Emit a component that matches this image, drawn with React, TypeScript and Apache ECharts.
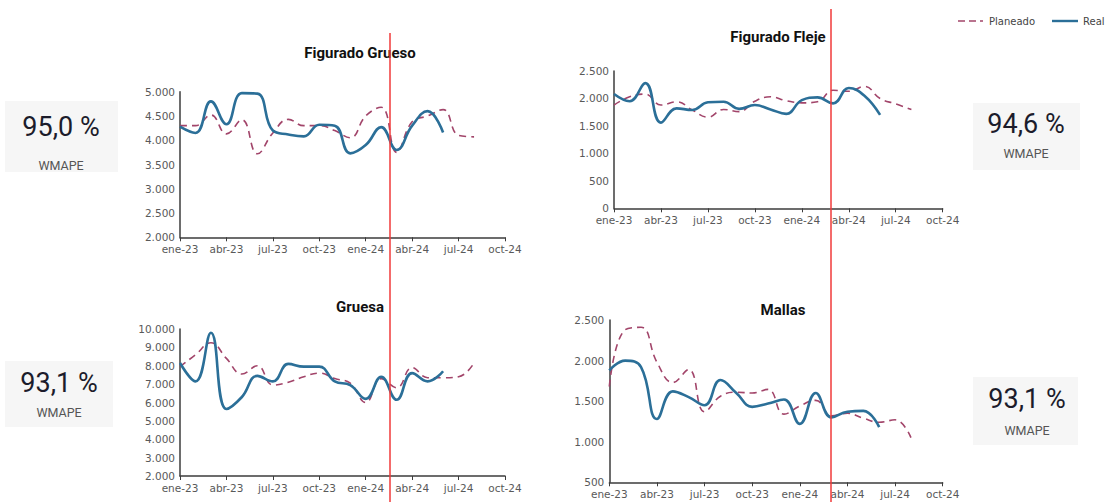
import React, { useEffect, useRef } from "react";
import * as echarts from "echarts";

const months = [
  "ene-23", "feb-23", "mar-23", "abr-23", "may-23", "jun-23", "jul-23", "ago-23", "sep-23", "oct-23", "nov-23", "dic-23",
  "ene-24", "feb-24", "mar-24", "abr-24", "may-24", "jun-24", "jul-24", "ago-24", "sep-24", "oct-24",
];

const fgReal = [4280, 4150, 4800, 4330, 4970, 4960, 4200, 4120, 4080, 4320, 4300, 3730, 3900, 4270, 3800, 4300, 4600, 4160];
const fgPlan = [4300, 4300, 4520, 4130, 4420, 3720, 4150, 4430, 4300, 4300, 4200, 4050, 4500, 4680, 3750, 4380, 4500, 4630, 4100, 4070];

const ffReal = [2080, 1950, 2280, 1560, 1820, 1790, 1930, 1940, 1810, 1880, 1800, 1720, 1970, 2020, 1910, 2190, 2050, 1700];
const ffPlan = [1880, 2030, 2080, 1880, 1940, 1790, 1660, 1800, 1760, 1950, 2030, 1960, 1920, 1940, 2150, 2130, 2220, 2000, 1900, 1800];

const grReal = [8150, 7150, 9800, 5650, 6300, 7450, 7150, 8100, 7950, 7950, 7150, 6950, 6200, 7400, 6150, 7600, 7150, 7700];
const grPlan = [7950, 8600, 9250, 8400, 7550, 8000, 6950, 7100, 7400, 7600, 7300, 7050, 6000, 7300, 6800, 7900, 7350, 7350, 7400, 8150];

const maReal = [1880, 2000, 1920, 1280, 1620, 1550, 1450, 1760, 1600, 1430, 1470, 1520, 1220, 1600, 1300, 1370, 1380, 1180];
const maPlan = [1680, 2380, 2410, 1980, 1730, 1890, 1370, 1560, 1610, 1600, 1645, 1340, 1440, 1510, 1320, 1350, 1290, 1240, 1270, 1050];

const titles = ["Figurado Grueso", "Figurado Fleje", "Gruesa", "Mallas"];
const yRanges = [
  [2000, 5000, 500],
  [0, 2500, 500],
  [2000, 10000, 1000],
  [500, 2500, 500],
];
const kpis = ["95,0 %", "94,6 %", "93,1 %", "93,1 %"];
const kpiLabel = "WMAPE";
const legendNames = ["Planeado", "Real"];

const REAL = "#2b6f98";
const PLAN = "#a2456a";
const AXIS = "#3c3c3c";
const LABEL = "#595959";

const fmt = (v: number) => String(v).replace(/\B(?=(\d{3})+(?!\d))/g, ".");

function pad(arr: number[]) {
  const out: (number | null)[] = arr.slice();
  while (out.length < months.length) out.push(null);
  return out;
}

export default function App() {
  const ref = useRef<HTMLDivElement>(null);
  useEffect(() => {
    if (!ref.current) return;
    const chart = echarts.init(ref.current, null, { renderer: "svg" });

    const grids = [
      { left: 180, right: 603, top: 91.7, bottom: 264.7 },
      { left: 614, right: 165.3, top: 71, bottom: 293.7 },
      { left: 180, right: 603, top: 329, bottom: 26 },
      { left: 609.3, right: 165.3, top: 320, bottom: 19.7 },
    ];
    const titlePos = [
      { x: 355, y: 40 },
      { x: 773, y: 24 },
      { x: 355, y: 294 },
      { x: 778, y: 297 },
    ];
    const realData = [fgReal, ffReal, grReal, maReal];
    const planData = [fgPlan, ffPlan, grPlan, maPlan];

    const series: any[] = [];
    for (let i = 0; i < 4; i++) {
      series.push({
        name: legendNames[0],
        type: "line",
        xAxisIndex: i,
        yAxisIndex: i,
        data: pad(planData[i]),
        smooth: 0.45,
        showSymbol: false,
        symbol: "none",
        lineStyle: { color: PLAN, width: 1.6, type: [7, 5] },
        z: 2,
      });
      series.push({
        name: legendNames[1],
        type: "line",
        xAxisIndex: i,
        yAxisIndex: i,
        data: pad(realData[i]),
        smooth: 0.45,
        showSymbol: false,
        symbol: "none",
        lineStyle: { color: REAL, width: 2.6 },
        z: 3,
      });
    }

    const kpiBoxes = [
      { x: 5, y: 101, w: 113, h: 71, cx: 61, ny: 127, ly: 165 },
      { x: 973, y: 103, w: 107, h: 67, cx: 1026, ny: 124, ly: 153 },
      { x: 5, y: 361, w: 108, h: 66, cx: 59, ny: 383, ly: 412 },
      { x: 973, y: 377, w: 105, h: 68, cx: 1027, ny: 399, ly: 430 },
    ];

    const graphic: any[] = [];
    kpiBoxes.forEach((b, i) => {
      graphic.push({
        type: "rect",
        shape: { x: b.x, y: b.y, width: b.w, height: b.h },
        style: { fill: "#f6f6f6" },
        z: 0,
      });
      graphic.push({
        type: "text",
        x: b.cx,
        y: b.ny,
        style: {
          text: kpis[i],
          fill: "#1c1c2b",
          font: "27px Roboto",
          textAlign: "center",
          textVerticalAlign: "middle",
        },
      });
      graphic.push({
        type: "text",
        x: b.cx,
        y: b.ly,
        style: {
          text: kpiLabel,
          fill: "#555555",
          font: "12.5px Roboto",
          textAlign: "center",
          textVerticalAlign: "middle",
        },
      });
    });
    graphic.push({
      type: "line",
      shape: { x1: 390, y1: 33, x2: 390, y2: 502 },
      style: { stroke: "#f03a3a", lineWidth: 1.5 },
      z: 10,
    });
    graphic.push({
      type: "line",
      shape: { x1: 831, y1: 9, x2: 831, y2: 502 },
      style: { stroke: "#f03a3a", lineWidth: 1.5 },
      z: 10,
    });
    graphic.push({
      type: "line",
      shape: { x1: 958, y1: 21, x2: 983, y2: 21 },
      style: { stroke: PLAN, lineWidth: 1.6, lineDash: [7, 4] },
    });
    graphic.push({
      type: "text",
      x: 989,
      y: 21,
      style: { text: legendNames[0], fill: "#444", font: "10px 'DejaVu Sans'", textVerticalAlign: "middle" },
    });
    graphic.push({
      type: "line",
      shape: { x1: 1052, y1: 21, x2: 1078, y2: 21 },
      style: { stroke: REAL, lineWidth: 2.4 },
    });
    graphic.push({
      type: "text",
      x: 1083,
      y: 21,
      style: { text: legendNames[1], fill: "#444", font: "10px 'DejaVu Sans'", textVerticalAlign: "middle" },
    });

    chart.setOption({
      animation: false,
      backgroundColor: "#ffffff",
      title: titles.map((t, i) => ({
        text: t,
        left: titlePos[i].x,
        top: titlePos[i].y,
        textAlign: "center",
        textStyle: { fontFamily: "Roboto", fontWeight: "bold", fontSize: 15, color: "#111" },
      })),
      grid: grids.map((g) => ({ ...g, containLabel: false })),
      xAxis: grids.map((_, i) => ({
        type: "category",
        gridIndex: i,
        data: months,
        boundaryGap: false,
        axisLine: { show: true, lineStyle: { color: AXIS, width: 1.5 } },
        axisTick: { show: true, interval: 2, length: 4, lineStyle: { color: AXIS } },
        axisLabel: {
          interval: 2,
          color: LABEL,
          fontFamily: "DejaVu Sans",
          fontSize: 10.5,
          margin: 6,
        },
        splitLine: { show: false },
      })),
      yAxis: grids.map((_, i) => ({
        type: "value",
        gridIndex: i,
        min: yRanges[i][0],
        max: yRanges[i][1],
        interval: yRanges[i][2],
        axisLine: { show: true, lineStyle: { color: AXIS, width: 1.5 } },
        axisTick: { show: false },
        axisLabel: {
          color: LABEL,
          fontFamily: "DejaVu Sans",
          fontSize: 10.5,
          margin: 5,
          formatter: (v: number) => fmt(v),
        },
        splitLine: { show: false },
      })),
      series,
      graphic,
    });
    return () => chart.dispose();
  }, []);
  return (
    <div
      ref={ref}
      style={{ position: "fixed", left: 0, top: 0, width: 1108, height: 502 }}
    />
  );
}
